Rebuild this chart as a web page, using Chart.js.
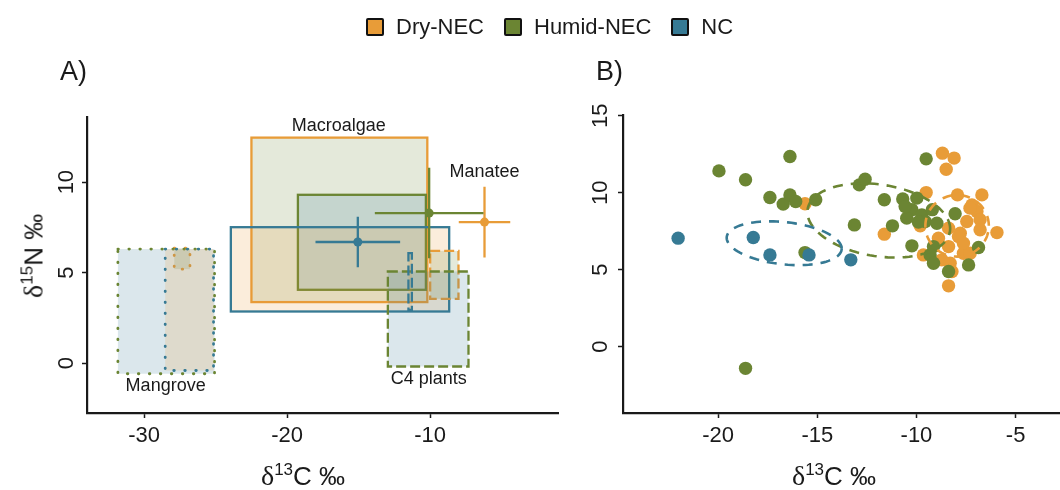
<!DOCTYPE html>
<html>
<head>
<meta charset="utf-8">
<script src="https://cdn.jsdelivr.net/npm/chart.js@4.4.1/dist/chart.umd.min.js"></script>
<style>
  body { margin: 0; background: #fff; font-family: "Liberation Sans", Arial, sans-serif; color: #1a1a1a; }
  #wrap { position: relative; width: 1060px; height: 490px; overflow: hidden; }
  canvas { position: absolute; top: 0; }
  #ca { left: 0; }
  #cb { left: 560px; }
  .txt { position: absolute; white-space: nowrap; line-height: 1; }
  .ttl { font-size: 26px; }
  .ttl sup { font-size: 17px; vertical-align: 10px; }
  .ttl .d { font-family: "Liberation Serif", "DejaVu Serif", serif; font-size: 28px; }
  .panel { font-size: 27px; }
  #legend { position: absolute; left: 366px; top: 14px; display: flex; align-items: center; font-size: 22px; }
  .key { width: 14px; height: 14px; border: 2px solid #111; border-radius: 2px; margin-right: 12px; }
  .item { display: flex; align-items: center; margin-right: 20px; }
</style>
</head>
<body>
<div id="wrap">
  <canvas id="ca" width="560" height="490"></canvas>
  <canvas id="cb" width="500" height="490"></canvas>

  <div id="legend">
    <div class="item"><div class="key" style="background:#E89C38"></div>Dry-NEC</div>
    <div class="item"><div class="key" style="background:#6B8533"></div>Humid-NEC</div>
    <div class="item"><div class="key" style="background:#367A94"></div>NC</div>
  </div>

  <div class="txt panel" style="left:60px; top:58px;">A)</div>
  <div class="txt panel" style="left:596px; top:58px;">B)</div>

  <div class="txt ttl" style="left:303px; top:475px; transform:translate(-50%,-50%);"><span class="d">&delta;</span><sup>13</sup>C &permil;</div>
  <div class="txt ttl" style="left:834px; top:475px; transform:translate(-50%,-50%);"><span class="d">&delta;</span><sup>13</sup>C &permil;</div>
  <div class="txt ttl" style="left:33px; top:256px; transform:translate(-50%,-50%) rotate(-90deg);"><span class="d">&delta;</span><sup>15</sup>N &permil;</div>
</div>

<script>
// --- groups / colours ---
const groups = ["Dry-NEC", "Humid-NEC", "NC"];
const lineColors = ["#E89C38", "#6B8533", "#367A94"];
// the box fills in panel A are shifted one group over (as in the original)
const fillColors = ["rgba(107,133,51,0.18)", "rgba(54,122,148,0.18)", "rgba(232,156,56,0.18)"];

// --- panel A: source boxes [C min, C max, N min, N max], order Dry, Humid, NC ---
const sources = ["Macroalgae", "Mangrove", "C4 plants"];
const macroalgaeBox = [[-22.5, -10.2, 3.37, 12.46], [-19.25, -10.3, 4.05, 9.3], [-23.94, -8.67, 2.85, 7.51]];
const mangroveBox = [[-27.9, -26.8, 5.19, 6.35], [-31.84, -25.08, -0.59, 6.3], [-28.53, -25.15, -0.41, 6.3]];
const c4Box = [[-10.0, -8.02, 3.55, 6.2], [-12.96, -7.32, -0.19, 5.06], [-11.52, -11.28, 2.94, 6.08]];
const sourceDash = [[], [0.5, 10.5], [10, 4]];

// manatee means and sd
const manateeC = [-6.2, -10.07, -15.06];
const manateeN = [7.79, 8.29, 6.69];
const manateeCsd = [1.8, 3.8, 2.96];
const manateeNsd = [1.96, 2.5, 1.39];

// label positions (data units)
const labelText = ["Macroalgae", "Manatee", "Mangrove", "C4 plants"];
const labelC = [-16.4, -6.2, -28.5, -10.1];
const labelN = [13.1, 10.55, -1.25, -0.87];

// --- panel B: individual samples ---
const ncC = [-22.02, -18.23, -17.39, -15.42, -13.31];
const ncN = [7.05, 7.09, 5.96, 5.96, 5.64];
const humidC = [-19.96, -18.62, -16.38, -17.39, -16.72, -16.38, -16.09, -15.08, -18.62, -15.62, -13.13, -12.88,
  -12.59, -11.62, -11.21, -10.69, -9.51, -10.23, -10.23, -9.98, -10.49, -9.73, -9.56, -8.97, -8.05, -9.14,
  -9.31, -9.14, -8.38, -7.37, -6.87, -10.57, -9.9, -9.2];
const humidN = [11.42, 10.84, 12.35, 9.69, 9.26, 9.86, 9.43, 9.54, -1.41, 6.11, 7.91, 10.51,
  10.88, 9.54, 7.85, 9.6, 12.2, 6.55, 8.89, 9.65, 8.35, 8.56, 8.13, 8.02, 8.63, 6.5,
  5.96, 5.42, 4.88, 5.31, 6.44, 9.1, 8.1, 8.9];
const dryC = [-15.62, -11.62, -8.69, -8.1, -8.5, -9.51, -7.93, -6.7, -7.2, -6.95, -7.46, -6.79, -7.79, -6.79,
  -5.94, -9.81, -8.38, -8.89, -8.38, -7.88, -7.63, -8.72, -9.65, -8.3, -8.21, -8.38, -7.29, -7.63, -7.3];
const dryN = [9.28, 7.31, 12.57, 12.25, 11.53, 10.01, 9.86, 9.86, 9.21, 8.78, 8.13, 8.24, 7.37, 7.59,
  7.41, 7.85, 7.7, 7.05, 6.5, 7.15, 6.07, 5.64, 5.96, 5.42, 4.88, 3.95, 6.07, 6.72, 9.0];

// ellipses: centre, half-width, half-height, shear (dN per dC along the long axis)
const ellC = [-7.95, -11.9, -16.67];
const ellN = [7.85, 8.2, 6.72];
const ellA = [1.6, 3.6, 2.9];
const ellB = [2.0, 2.35, 1.38];
const ellTilt = [0, -0.15, -0.12];

const font = { family: "'Liberation Sans', Arial, sans-serif" };

function axes(xmin, xmax, xstep, ymin, ymax, ystep, yWidth, yPad) {
  const grid = { drawOnChartArea: false, tickLength: 5, tickColor: "#1a1a1a", tickWidth: 1.5 };
  const border = { display: true, color: "#1a1a1a", width: 2.2 };
  return {
    x: {
      type: "linear", min: xmin, max: xmax, grid: grid, border: border,
      ticks: { stepSize: xstep, includeBounds: false, padding: 5, color: "#1a1a1a", font: { ...font, size: 22 } },
      afterFit: s => { s.height = 77; }
    },
    y: {
      type: "linear", min: ymin, max: ymax, grid: grid, border: border,
      ticks: { stepSize: ystep, includeBounds: false, padding: yPad, minRotation: 90, maxRotation: 90,
        crossAlign: "center", color: "#1a1a1a", font: { ...font, size: 22 } },
      afterFit: s => { s.width = yWidth; }
    }
  };
}

// rectangles, error bars and labels for panel A
const sourcePlugin = {
  id: "sources",
  beforeDatasetsDraw(chart) {
    const { ctx, scales: { x, y } } = chart;
    [macroalgaeBox, mangroveBox, c4Box].forEach((boxes, s) => {
      boxes.forEach((b, g) => {
        const x0 = x.getPixelForValue(b[0]), x1 = x.getPixelForValue(b[1]);
        const y0 = y.getPixelForValue(b[3]), y1 = y.getPixelForValue(b[2]);
        ctx.save();
        ctx.fillStyle = fillColors[g];
        ctx.fillRect(x0, y0, x1 - x0, y1 - y0);
        ctx.strokeStyle = lineColors[g];
        ctx.lineWidth = s === 1 ? 2.8 : 2.3;
        ctx.lineCap = s === 1 ? "round" : "butt";
        ctx.setLineDash(sourceDash[s]);
        ctx.strokeRect(x0, y0, x1 - x0, y1 - y0);
        ctx.restore();
      });
    });
    // manatee error bars
    manateeC.forEach((c, g) => {
      const n = manateeN[g];
      ctx.save();
      ctx.strokeStyle = lineColors[g];
      ctx.lineWidth = 2.3;
      ctx.beginPath();
      ctx.moveTo(x.getPixelForValue(c - manateeCsd[g]), y.getPixelForValue(n));
      ctx.lineTo(x.getPixelForValue(c + manateeCsd[g]), y.getPixelForValue(n));
      ctx.moveTo(x.getPixelForValue(c), y.getPixelForValue(n - manateeNsd[g]));
      ctx.lineTo(x.getPixelForValue(c), y.getPixelForValue(n + manateeNsd[g]));
      ctx.stroke();
      ctx.restore();
    });
  },
  afterDatasetsDraw(chart) {
    const { ctx, scales: { x, y } } = chart;
    ctx.save();
    ctx.fillStyle = "#1a1a1a";
    ctx.font = "18px 'Liberation Sans', Arial, sans-serif";
    ctx.textAlign = "center";
    ctx.textBaseline = "middle";
    labelText.forEach((t, i) => ctx.fillText(t, x.getPixelForValue(labelC[i]), y.getPixelForValue(labelN[i])));
    ctx.restore();
  }
};

// dashed ellipses for panel B
const ellipsePlugin = {
  id: "ellipses",
  afterDatasetsDraw(chart) {
    const { ctx, scales: { x, y } } = chart;
    ellC.forEach((c, g) => {
      ctx.save();
      ctx.strokeStyle = lineColors[g];
      ctx.lineWidth = 2.6;
      ctx.setLineDash([10, 8]);
      ctx.beginPath();
      for (let k = 0; k <= 100; k++) {
        const t = k / 100 * Math.PI * 2;
        const dc = ellA[g] * Math.cos(t);
        const px = x.getPixelForValue(c + dc);
        const py = y.getPixelForValue(ellN[g] + ellTilt[g] * dc + ellB[g] * Math.sin(t));
        if (k === 0) ctx.moveTo(px, py); else ctx.lineTo(px, py);
      }
      ctx.stroke();
      ctx.restore();
    });
  }
};

const toPts = (cs, ns) => cs.map((c, i) => ({ x: c, y: ns[i] }));

new Chart(document.getElementById("ca"), {
  type: "scatter",
  data: {
    datasets: groups.map((g, i) => ({
      label: g,
      data: [{ x: manateeC[i], y: manateeN[i] }],
      backgroundColor: lineColors[i],
      borderWidth: 0,
      pointRadius: 4.5
    }))
  },
  options: {
    responsive: false, animation: false, devicePixelRatio: 1,
    layout: { autoPadding: false, padding: { left: 0, right: 2, top: 117, bottom: 0 } },
    plugins: { legend: { display: false }, tooltip: { enabled: false } },
    scales: axes(-34, -1.06, 10, -2.76, 13.6, 5, 87, 3)
  },
  plugins: [sourcePlugin]
});

new Chart(document.getElementById("cb"), {
  type: "scatter",
  data: {
    datasets: [
      { label: "NC", data: toPts(ncC, ncN), backgroundColor: lineColors[2] },
      { label: "Humid-NEC", data: toPts(humidC, humidN), backgroundColor: lineColors[1] },
      { label: "Dry-NEC", data: toPts(dryC, dryN), backgroundColor: lineColors[0] }
    ].map(d => ({ ...d, pointRadius: 6.7, borderWidth: 0 }))
  },
  options: {
    responsive: false, animation: false, devicePixelRatio: 1,
    layout: { autoPadding: false, padding: { left: 0, right: 0, top: 115, bottom: 0 } },
    plugins: { legend: { display: false }, tooltip: { enabled: false } },
    scales: axes(-24.8, -2.76, 5, -4.31, 15.05, 5, 63, 5)
  },
  plugins: [ellipsePlugin]
});
</script>
</body>
</html>
